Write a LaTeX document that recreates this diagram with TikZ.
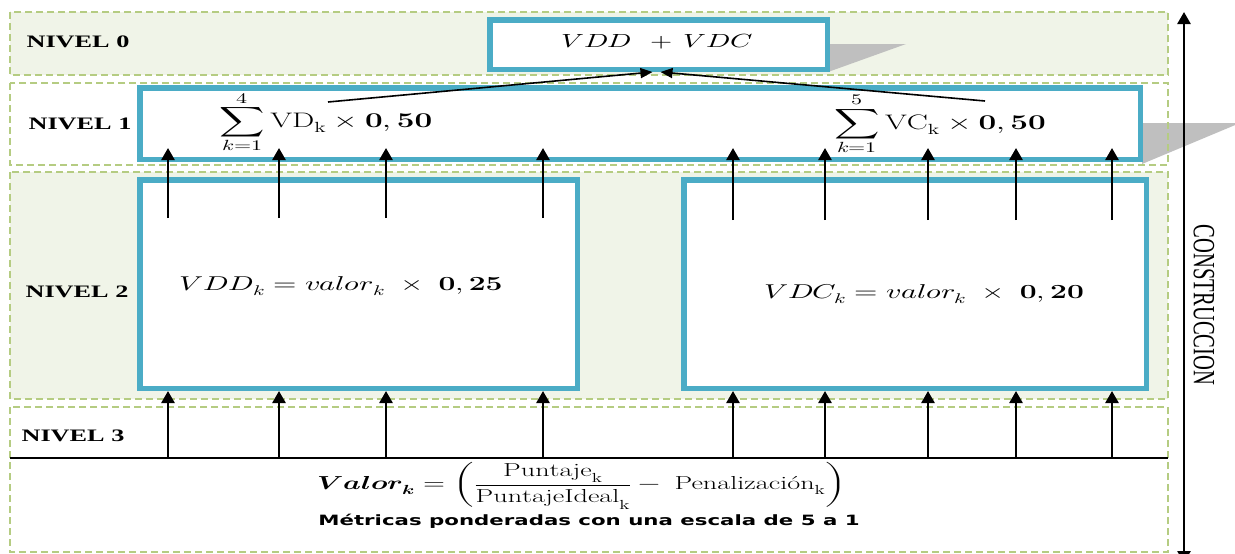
\documentclass[tikz,border=0pt]{standalone}
\usepackage{fontspec}
\usepackage{unicode-math}
\setmathfont{Latin Modern Math}
\newfontfamily\lblfont{Liberation Serif}
\newfontfamily\sansb{DejaVu Sans}
\usetikzlibrary{arrows.meta}
\definecolor{frameblue}{HTML}{4BACC6}
\definecolor{dashgreen}{HTML}{B5CC82}
\definecolor{bandfill}{HTML}{F0F4E8}
\definecolor{shadowgray}{HTML}{BFBFBF}
\newcommand{\hx}[1]{\scalebox{1.5}[1]{#1}}
\tikzset{
  band/.style={draw=dashgreen, dash pattern=on 7pt off 4pt, line width=1.2pt},
  lvbox/.style={draw=frameblue, line width=5.5pt, fill=white, inner sep=0pt},
  arr/.style={line width=2.6pt, -{Triangle[width=13pt,length=12pt]}},
  conv/.style={line width=1.6pt, -{Triangle[width=10pt,length=12pt]}},
  lbl/.style={font=\lblfont\bfseries\fontsize{17.5}{18}\selectfont, inner sep=0pt},
  mth/.style={font=\fontsize{20}{22}\selectfont, inner sep=0pt},
}
\begin{document}
\begin{tikzpicture}[x=1pt,y=-1pt]
\useasboundingbox (0,0) rectangle (1235,554);
\fill[white] (0,0) rectangle (1235,554);
% band fills
\fill[bandfill] (10,12) rectangle (1168,75);
\fill[white] (10,83) rectangle (1168,165);
\fill[bandfill] (10,172) rectangle (1168,399);
\fill[white] (10,407) rectangle (1168,552);
% shadows
\fill[shadowgray] (828,44) -- (906,44) -- (828,72) -- cycle;
\fill[shadowgray] (1142,123) -- (1240,123) -- (1142,164) -- cycle;
% band outlines
\draw[band] (10,12) rectangle (1168,75);
\draw[band] (10,83) rectangle (1168,165);
\draw[band] (10,172) rectangle (1168,399);
\draw[band] (10,407) rectangle (1168,552);
% boxes
\node[lvbox, minimum width=337.5pt, minimum height=49.5pt] (n0) at (658.5,44.5) {};
\node[lvbox, minimum width=1000.5pt, minimum height=71.5pt] (n1) at (640,123.5) {};
\node[lvbox, minimum width=437.5pt, minimum height=208.5pt] (n2l) at (358.5,284) {};
\node[lvbox, minimum width=462.5pt, minimum height=208.5pt] (n2r) at (915,284) {};
% texts in boxes
\node[mth, font=\fontsize{19}{22}\selectfont] (t0) at (657,42) {\hx{$VDD\;\,+\,VDC$}};
\node[mth, font=\fontsize{21}{24}\selectfont] (s1) at (326,122) {\hx{$\displaystyle\sum_{k=1}^{4}\mathrm{VD}_{\mathrm{k}}\times\mathbf{0,50}$}};
\node[mth, font=\fontsize{21}{24}\selectfont] (s2) at (940,124) {\hx{$\displaystyle\sum_{k=1}^{5}\mathrm{VC}_{\mathrm{k}}\times\mathbf{0,50}$}};
\node[mth] (f2l) at (341,286) {\hx{$VDD_{k}=valor_{k}\;\times\;\mathbf{0,25}$}};
\node[mth] (f2r) at (924,294) {\hx{$VDC_{k}=valor_{k}\;\times\;\mathbf{0,20}$}};
% level labels
\node[lbl] (l0) at (78,42) {\hx{NIVEL 0}};
\node[lbl] (l1) at (80,124) {\hx{NIVEL 1}};
\node[lbl] (l2) at (77,292) {\hx{NIVEL 2}};
\node[lbl] (l3) at (73,436) {\hx{NIVEL 3}};
% bottom formula
\node[font=\fontsize{18.8}{21}\selectfont, inner sep=0pt] (val) at (582,486)
  {\hx{$\symbfit{Valor}_{\symbfit{k}}=\left(\displaystyle\frac{\mathrm{Puntaje}_{\mathrm{k}}}{\mathrm{PuntajeIdeal}_{\mathrm{k}}}-\;\textrm{Penalización}_{\mathrm{k}}\right)$}};
\node[font=\sansb\bfseries\fontsize{14.2}{15}\selectfont, inner sep=0pt] (met) at (589,521)
  {\hx{Métricas ponderadas con una escala de 5 a 1}};
% level 3 line
\coordinate (hl) at (10,458);
\coordinate (hr) at (1168,458);
\draw[line width=1.5pt] (hl) -- (hr);
% arrows
\coordinate (lvl1tips) at (640,148);
\foreach \x [count=\i] in {168,279,386,543} {
  \coordinate (u\i) at (\x,218);
  \draw[arr] (u\i) -- (u\i |- lvl1tips);
  \coordinate (b\i) at (\x,458);
  \draw[arr] (b\i) -- (b\i |- n2l.south);
}
\foreach \x [count=\i] in {733,825,928,1016,1112} {
  \coordinate (ur\i) at (\x,220);
  \draw[arr] (ur\i) -- (ur\i |- lvl1tips);
  \coordinate (br\i) at (\x,458);
  \draw[arr] (br\i) -- (br\i |- n2r.south);
}
% converging arrows
\coordinate (c1) at (328,102);
\coordinate (c2) at (985,101);
\draw[conv] (c1) -- ([xshift=-6pt]n0.south);
\draw[conv] (c2) -- ([xshift=2pt]n0.south);
% vertical axis
\coordinate (vb) at (1184,563);
\coordinate (vt) at (1184,12);
\draw[line width=2.6pt, {Triangle[width=13pt,length=12pt]}-{Triangle[width=13pt,length=12pt]}] (vb) -- (vt);
\node[inner sep=0pt] (con) at (1204,305) {\hx{\rotatebox{-90}{\lblfont\fontsize{20.6}{22}\selectfont CONSTRUCCION}}};
\end{tikzpicture}
\end{document}
